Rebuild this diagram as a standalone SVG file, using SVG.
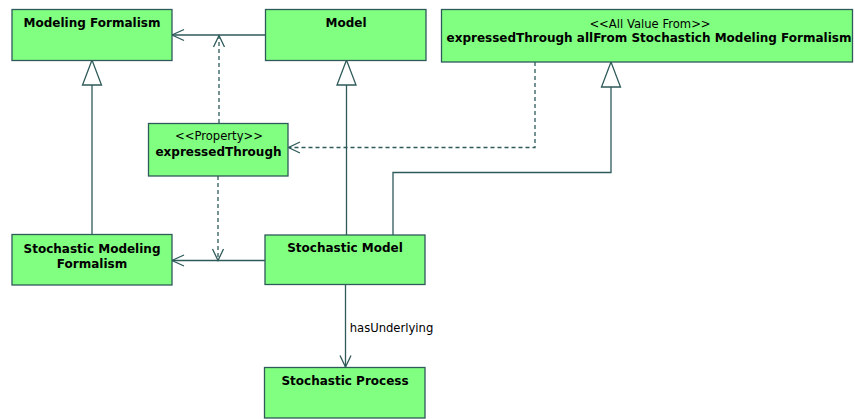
<svg xmlns="http://www.w3.org/2000/svg" width="855" height="419" viewBox="0 0 855 419">
  <style>
    .box { fill: #80ff80; stroke: #2f5a5a; stroke-width: 1.3; }
    .t { font-family: "DejaVu Sans", Verdana, sans-serif; font-size: 11.6px; fill: #000; text-anchor: middle; }
    .b { font-weight: bold; font-size: 12px; }
    .ln { fill: none; stroke: #2f5a5a; stroke-width: 1.3; }
    .dash { stroke-dasharray: 4 3; }
    .tri { fill: #fff; stroke: #2f5a5a; stroke-width: 1.3; }
  </style>
  <rect width="855" height="419" fill="#fff"/>

  <g id="connectors">
    <!-- Model -> Modeling Formalism -->
    <line class="ln" x1="265" y1="35" x2="172" y2="35"/>
    <polyline class="ln" points="184,29.5 172,35 184,40.5"/>
    <!-- Stochastic Model -> Stochastic Modeling Formalism -->
    <line class="ln" x1="265" y1="260.5" x2="172" y2="260.5"/>
    <polyline class="ln" points="184,255 172,260.5 184,266"/>
    <!-- expressedThrough dependencies -->
    <line class="ln dash" x1="219" y1="123" x2="219" y2="36"/>
    <polyline class="ln" points="213.5,47 219,35.5 224.5,47"/>
    <line class="ln dash" x1="218" y1="176" x2="218" y2="260"/>
    <polyline class="ln" points="212.5,249 218,260.5 223.5,249"/>
    <!-- All Value From -> expressedThrough -->
    <polyline class="ln dash" points="535,62 535,147.5 289,147.5"/>
    <polyline class="ln" points="300,142 288.5,147.5 300,153"/>
    <!-- generalizations -->
    <line class="ln" x1="92" y1="234" x2="92" y2="85"/>
    <polygon class="tri" points="92,60 82.5,85 101.5,85"/>
    <line class="ln" x1="346.5" y1="235" x2="346.5" y2="85"/>
    <polygon class="tri" points="346.5,60 337,85 356,85"/>
    <polyline class="ln" points="393,235 393,172.5 611,172.5 611,87"/>
    <polygon class="tri" points="611,62 601.5,87 620.5,87"/>
    <!-- hasUnderlying -->
    <line class="ln" x1="345.5" y1="285" x2="345.5" y2="367"/>
    <polyline class="ln" points="340,355.5 345.5,367 351,355.5"/>
    <text class="t" x="391.5" y="332">hasUnderlying</text>
  </g>

  <g id="modeling-formalism">
    <rect class="box" x="12" y="9.5" width="160" height="51"/>
    <text class="t b" x="92" y="27">Modeling Formalism</text>
  </g>
  <g id="model">
    <rect class="box" x="265.5" y="9.5" width="160.5" height="51"/>
    <text class="t b" x="346" y="27">Model</text>
  </g>
  <g id="all-value-from">
    <rect class="box" x="441.5" y="9.5" width="411" height="52.5"/>
    <text class="t" x="650" y="27.5">&lt;&lt;All Value From&gt;&gt;</text>
    <text class="t b" x="649" y="41.5">expressedThrough allFrom Stochastich Modeling Formalism</text>
  </g>
  <g id="expressed-through">
    <rect class="box" x="148.5" y="123.5" width="139.5" height="52.5"/>
    <text class="t" x="219" y="140">&lt;&lt;Property&gt;&gt;</text>
    <text class="t b" x="218.5" y="156">expressedThrough</text>
  </g>
  <g id="stochastic-modeling-formalism">
    <rect class="box" x="12" y="234.5" width="160" height="50.5"/>
    <text class="t b" x="92" y="252.5">Stochastic Modeling</text>
    <text class="t b" x="92" y="268">Formalism</text>
  </g>
  <g id="stochastic-model">
    <rect class="box" x="265" y="235" width="160" height="49.5"/>
    <text class="t b" x="345" y="252">Stochastic Model</text>
  </g>
  <g id="stochastic-process">
    <rect class="box" x="264.5" y="367.5" width="160.5" height="50.5"/>
    <text class="t b" x="345" y="385">Stochastic Process</text>
  </g>
</svg>
